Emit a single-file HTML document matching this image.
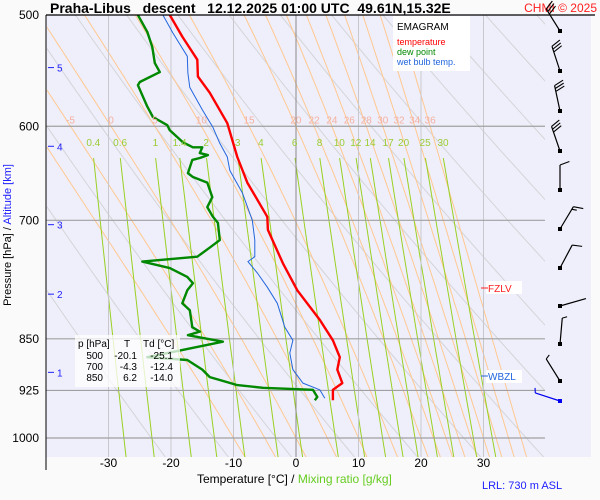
<!DOCTYPE html>
<html><head><meta charset="utf-8"><style>
html,body{margin:0;padding:0;background:#fafafa;}
svg{display:block;font-family:"Liberation Sans",sans-serif;}
</style></head><body>
<svg id="c" width="600" height="500" viewBox="0 0 600 500">
<defs><clipPath id="pc"><rect x="47" y="15" width="498" height="442"/></clipPath></defs>
<rect x="46" y="15" width="545" height="442" fill="#efeffb"/>
<g id="bgl" clip-path="url(#pc)"></g>
<g id="grid"></g>
<g id="series" clip-path="url(#pc)"></g>
<g id="labels"></g>
<text x="50" y="13" font-size="14" font-weight="bold" xml:space="preserve">Praha-Libus   descent   12.12.2025 01:00 UTC  49.61N,15.32E</text>
<text x="597" y="12" font-size="12" fill="#ff2020" text-anchor="end">CHMI © 2025</text>
<line x1="46" y1="15" x2="595" y2="15" stroke="#000" stroke-width="1.2"/>
<line x1="46" y1="15" x2="46" y2="470" stroke="#000" stroke-width="1"/>
<text transform="translate(11,235) rotate(-90)" font-size="11" text-anchor="middle">Pressure [hPa]  /  <tspan fill="#2020ff">Altitude [km]</tspan></text>
<text x="197" y="483" font-size="12">Temperature [°C]  /  <tspan fill="#66cc22">Mixing ratio [g/kg]</tspan></text>
<text x="482" y="489" font-size="11" fill="#2020ff">LRL: 730 m ASL</text>
<g>
<rect x="393" y="16" width="77" height="55" fill="#fff"/>
<text x="397" y="30" font-size="10">EMAGRAM</text>
<text x="397" y="45" font-size="9" fill="#ff0000">temperature</text>
<text x="397" y="55" font-size="9" fill="#008800">dew point</text>
<text x="397" y="65" font-size="9" fill="#2266dd">wet bulb temp.</text>
</g>
<g id="tbl">
<rect x="75" y="335" width="105" height="52" fill="rgba(255,255,255,0.75)"/>
<text x="78" y="347" font-size="10">p [hPa]</text>
<text x="124" y="347" font-size="10">T</text>
<text x="143" y="347" font-size="10">Td [°C]</text>
</g>
<g id="barbs"></g>
<g>
<rect x="486" y="281" width="36" height="13" fill="#fff"/>
<line x1="481" y1="288" x2="488" y2="288" stroke="#ff2020"/>
<text x="488" y="292" font-size="10" fill="#ff2020">FZLV</text>
</g>
<g>
<rect x="486" y="370" width="36" height="13" fill="#fff"/>
<line x1="481" y1="376" x2="488" y2="376" stroke="#2266dd"/>
<text x="488" y="380" font-size="10" fill="#2266dd">WBZL</text>
</g>
</svg>
<script>
const tempP=[500,518,538,553,568,597,631,658,696,711,751,785,824,852,876,894,914,924,940];
const tempT=[-20.2,-18.2,-15.8,-15.7,-13.8,-11.0,-9.4,-7.8,-4.6,-4.5,-2.1,0.2,3.8,5.9,7.0,6.6,7.4,5.9,5.9];
const dewP=[500,514,527,541,549,558,561,581,591,599,604,616,621,621,627,629,632,634,648,652,658,674,685,696,703,723,732,743,749,757,768,776,785,802,811,834,840,845,854,876,880,894,905,917,921,924,935,940];
const dewT=[-25.3,-23.8,-23.0,-22.6,-21.8,-25.0,-25.3,-23.8,-22.9,-20.6,-20.2,-18.1,-16.5,-15.0,-15.4,-14.1,-15.4,-16.6,-17.3,-16.5,-14.2,-13.4,-14.2,-13.3,-12.5,-12.2,-13.8,-15.8,-24.6,-20.2,-17.4,-16.5,-17.4,-18.2,-17.0,-16.6,-15.4,-17.3,-11.7,-23.8,-17.4,-15.0,-13.8,-9.4,-5.3,2.7,3.4,3.0];
const wbP=[500,515,535,550,563,584,601,617,631,645,669,700,723,743,749,763,781,802,834,852,870,894,914,924,937];
const wbT=[-21.3,-19.7,-17.4,-17.3,-17.0,-15.0,-13.3,-12.2,-11.0,-10.6,-8.6,-7.0,-6.6,-6.6,-7.7,-6.2,-4.6,-3.0,-1.8,-0.5,-1.0,-0.5,1.1,3.8,4.6];
const pTicks=[500,600,700,850,925,1000];
const tTicks=[-30,-20,-10,0,10,20,30];
const altKm=[5,4,3,2,1];
const altP=[545,620,705,790,898];
const thetaW=[-10,-5,0,5,10,15,20,22,24,26,28,30,32,34,36];
const mixR=[0.4,0.6,1,1.4,2,3,4,6,8,10,12,14,17,20,25,30];
const thetaD=[250,260,270,280,290,300,310,320,330,340,350,360,370,380,390,400,410,420,430];
const tblP=["500","700","850"];
const tblT=["-20.1","-4.3","6.2"];
const tblTd=["-25.1","-12.4","-14.0"];
const windDir=[328,342,348,341,0,31,28,74,5,328,288];
const windBarbs=[[1,1,1],[1,1,1],[1,1,1],[1,1,1],[1],[1,0.5],[1],[],[0.5],[0.5],[0.5]];
const windY=[31,71,111,151,190,229,268,306,344,381,401];

const NS='http://www.w3.org/2000/svg';
const X=t=>296+6.25*t;
const Y=p=>15+423*Math.log2(p/500);
function mk(tag,attrs,parent){const e=document.createElementNS(NS,tag);for(const k in attrs)e.setAttribute(k,attrs[k]);parent.appendChild(e);return e;}
const bgl=document.getElementById('bgl'),grid=document.getElementById('grid'),ser=document.getElementById('series'),lab=document.getElementById('labels');
const es=t=>6.112*Math.exp(17.67*t/(t+243.5));
// dry adiabats
thetaD.forEach(th=>{let d='';for(let p=480;p<=1100;p+=20){const t=th*Math.pow(p/1000,0.286)-273.15;d+=(d?'L':'M')+X(t).toFixed(1)+' '+Y(p).toFixed(1);}
const e=mk('path',{d:d,fill:'none',stroke:'#d4d4d8','stroke-width':1},bgl);

});
// moist adiabats
function moist(tw){const pts={};let T=tw+273.15;const f=(p,T)=>{const tc=T-273.15;const e=es(tc);const rs=0.622*e/(p-e);return (287*T+2.5e6*rs)/(p*(1004+2.5e6*2.5e6*rs*0.622/(287*T*T)));};
let p=1000;pts[1000]=T;while(p>480){T-=f(p,T)*5;p-=5;pts[p]=T;}T=tw+273.15;p=1000;while(p<1100){T+=f(p,T)*5;p+=5;pts[p]=T;}
return Object.keys(pts).map(Number).sort((a,b)=>a-b).map(pp=>[pp,pts[pp]-273.15]);}
thetaW.forEach(tw=>{const arr=moist(tw);const d=arr.map((a,i)=>(i?'L':'M')+X(a[1]).toFixed(1)+' '+Y(a[0]).toFixed(1)).join('');
const e=mk('path',{d:d,fill:'none',stroke:'#ffc890','stroke-width':1},bgl);


if(tw>=-5){const a=arr.find(q=>q[0]===600);const tx=mk('text',{x:X(a[1]).toFixed(1),y:Y(600)-3,'font-size':10,fill:'#f4b0a0','text-anchor':'middle'},lab);tx.textContent=tw;

}});
// mixing ratio
const wTd=(w,p)=>{const e=w/1000*p/(0.622+w/1000);const l=Math.log(e/6.112);return 243.5*l/(17.67-l);};
mixR.forEach(w=>{let d='';for(let p=632;p<=1100;p+=20){d+=(d?'L':'M')+X(wTd(w,p)).toFixed(1)+' '+Y(p).toFixed(1);}
const e=mk('path',{d:d,fill:'none',stroke:'#99d022','stroke-width':1},bgl);


const tx=mk('text',{x:X(wTd(w,630)).toFixed(1),y:146,'font-size':10,fill:'#99cc33','text-anchor':'middle'},lab);tx.textContent=w;

});
// isotherms
[-40,-30,-20,-10,0,10,20,30,40].forEach(t=>{const e=mk('line',{x1:X(t),x2:X(t),y1:15,y2:457,stroke:t===0?'#888':'#c8c8cc','stroke-width':1},bgl);

});
tTicks.forEach(t=>{const tx=mk('text',{x:X(t),y:467,'font-size':12,'text-anchor':'middle'},lab);tx.textContent=t;

});
pTicks.forEach(p=>{if(p>500){const e=mk('line',{x1:46,x2:545,y1:Y(p),y2:Y(p),stroke:'#a0a0a0','stroke-width':1.2},grid);

}
const tx=mk('text',{x:39,y:Y(p)+4,'font-size':12,'text-anchor':'end'},lab);tx.textContent=p;

});
altKm.forEach((k,i)=>{const y=Y(altP[i]);const e=mk('line',{x1:48,x2:54,y1:y,y2:y,stroke:'#2020ff'},lab);


const tx=mk('text',{x:57,y:y+4,'font-size':10,fill:'#2020ff'},lab);tx.textContent=k;

});
function line(P,T,col,w,name){const d=P.map((p,i)=>(i?'L':'M')+X(T[i]).toFixed(1)+' '+Y(p).toFixed(1)).join('');
const e=mk('path',{d:d,fill:'none',stroke:col,'stroke-width':w,'stroke-linejoin':'round'},ser);

}
line(wbP,wbT,'#2266dd',1,'wet-bulb-line');
line(dewP,dewT,'#008800',2.4,'dew-point-line');
line(tempP,tempT,'#ff0000',2.4,'temperature-line');
// table rows
const tbl=document.getElementById('tbl');
tblP.forEach((p,i)=>{const y=359+i*11;
[[p,103],[tblT[i],137],[tblTd[i],173]].forEach(c=>{const tx=mk('text',{x:c[1],y:y,'font-size':10,'text-anchor':'end'},tbl);tx.textContent=c[0];

});});
// wind barbs
const bg=document.getElementById('barbs');
windDir.forEach((dir,i)=>{const col=i===windDir.length-1?'#0000ee':'#000';const a=dir*Math.PI/180;const bx=560,by=windY[i];const L=i>=8?26:i===4?25:i===7?27:26;
const ux=Math.sin(a),uy=-Math.cos(a);const ex=bx+ux*L,ey=by+uy*L;
const g=mk('g',{},bg);


mk('line',{x1:bx,y1:by,x2:ex,y2:ey,stroke:col,'stroke-width':1.2},g);
mk('rect',{x:bx-2,y:by-2,width:4,height:4,fill:col},g);
const px=-uy,py=ux;
windBarbs[i].forEach((b,j)=>{const sx=ex-ux*j*3,sy=ey-uy*j*3;const bl=10*b;
mk('line',{x1:sx,y1:sy,x2:sx+(px*0.94+ux*0.35)*bl,y2:sy+(py*0.94+uy*0.35)*bl,stroke:col,'stroke-width':1.1},g);});});
</script>
</body></html>
